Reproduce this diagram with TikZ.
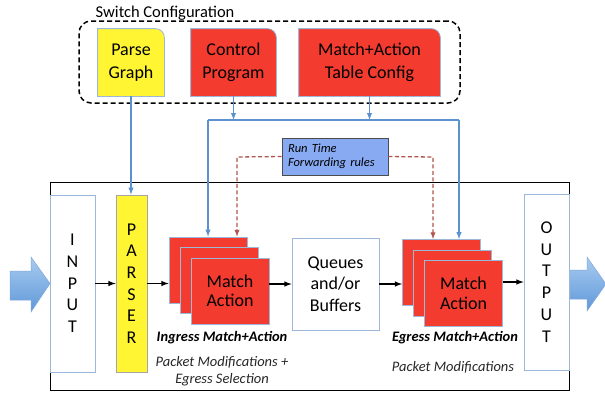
\documentclass[tikz,border=0pt]{standalone}
\usepackage{fontspec}
\setmainfont{Carlito}
\usetikzlibrary{arrows,backgrounds}

\definecolor{rotbox}{HTML}{F43B30}
\definecolor{gelbbox}{HTML}{FFF533}
\definecolor{rand}{HTML}{9DB7D8}
\definecolor{steuer}{HTML}{5B91CE}
\definecolor{laufzeit}{HTML}{88AAF2}
\definecolor{regel}{HTML}{B0554D}
\definecolor{pfeilhell}{HTML}{A9CBF0}
\definecolor{pfeildunkel}{HTML}{5F98D9}
\definecolor{pfeilrand}{HTML}{7FA8DA}

\begin{document}
\begin{tikzpicture}[x=1pt, y=-1pt, >=latex, thick,
  box/.style={draw=rand, line width=0.8pt, inner sep=0pt, align=center,
    font=\fontsize{18}{21.7}\selectfont},
  mabox/.style={box, fill=rotbox, minimum width=78pt, minimum height=66pt,
    font=\fontsize{18}{19.5}\selectfont},
  topbox/.style={inner sep=0pt, align=center, minimum height=67pt,
    font=\fontsize{18}{22.5}\selectfont},
  ecke/.style={line width=0.8pt, draw=rand},
  fluss/.style={->, line width=1.5pt},
  bus/.style={draw=steuer, line width=1.4pt},
  regellinie/.style={draw=regel, line width=1.3pt, dash pattern=on 4pt off 2.5pt},
  titel/.style={font=\bfseries\itshape\fontsize{14.5}{16}\selectfont},
  notiz/.style={font=\itshape\fontsize{14.5}{17}\selectfont, align=center, text=black!85}]

\useasboundingbox (0,0) rectangle (605,392);

\def\stapel#1#2#3{
\node[mabox] (#1a) at (#2,#3) {};
\node[mabox] (#1b) at (#2+11,#3+10.5) {};
\node[mabox] (#1c) at (#2+22,#3+21) {Match\\Action};
}

% switch configuration
\node[anchor=base west, font=\fontsize{16.5}{18}\selectfont] (sclabel) at (92,17) {Switch Configuration};
\node[draw, dash pattern=on 5pt off 3pt, line width=1.5pt, rounded corners=12pt, minimum width=381pt,
  minimum height=82pt] (cfg) at (269.5,62) {};
\node[topbox, minimum width=66pt] (pg) at (131,62.5) {Parse\\Graph};
\node[topbox, minimum width=85pt] (cp) at (233.5,62.5) {Control\\Program};
\node[topbox, minimum width=141pt] (tc) at (369.5,62.5) {Match+Action\\Table Config};

\begin{scope}[on background layer]
\filldraw[ecke, fill=gelbbox] (pg.south west) -- (pg.north west) -- ([xshift=-9pt]pg.north east)
  arc[start angle=90, end angle=0, radius=9pt] -- (pg.south east) -- cycle;
\filldraw[ecke, fill=rotbox] (cp.south west) -- (cp.north west) -- ([xshift=-9pt]cp.north east)
  arc[start angle=90, end angle=0, radius=9pt] -- (cp.south east) -- cycle;
\filldraw[ecke, fill=rotbox] (tc.south west) -- (tc.north west) -- ([xshift=-9pt]tc.north east)
  arc[start angle=90, end angle=0, radius=9pt] -- (tc.south east) -- cycle;
\end{scope}

% big in/out arrows
\shade[top color=pfeilhell, bottom color=pfeildunkel, draw=pfeilrand, line width=0.5pt]
  (10,271) -- (31,271) -- (31,257) -- (50,283.5) -- (31,312) -- (31,300) -- (10,300) -- cycle;
\shade[top color=pfeilhell, bottom color=pfeildunkel, draw=pfeilrand, line width=0.5pt]
  (569,270) -- (587,270) -- (587,257) -- (606,284) -- (587,311) -- (587,299) -- (569,299) -- cycle;

% pipeline
\node[draw, line width=0.6pt, inner sep=0pt, minimum width=519pt, minimum height=208pt] (main) at (309.5,286) {};
\node[box, fill=white, minimum width=45pt, minimum height=177pt] (in) at (72.5,283.5) {I\\N\\P\\U\\T};
\node[box, draw=black!35, fill=gelbbox, minimum width=31pt, minimum height=177pt] (parser) at (131.5,283.5) {P\\A\\R\\S\\E\\R};
\stapel{ima}{208}{270}
\node[box, fill=white, minimum width=87pt, minimum height=92pt] (q) at (335.5,284) {Queues\\and/or\\Buffers};
\stapel{ema}{441.5}{272.5}
\node[box, fill=white, minimum width=45pt, minimum height=176pt] (out) at (546.5,282) {O\\U\\T\\P\\U\\T};

\node[titel] (ilabel) at (222,338) {Ingress Match+Action};
\node[notiz] (inote) at (222,371) {Packet Modifications +\\Egress Selection};
\node[titel] (elabel) at (455,338) {Egress Match+Action};
\node[notiz] (enote) at (453,367) {Packet Modifications};

\draw[fluss] (in.east |- parser) -- (parser.west);
\draw[fluss] (parser.east) -- (parser.east -| imaa.west);
\draw[fluss] (q.west -| imac.east) -- (q.west);
\draw[fluss] (q.east) -- (q.east -| emaa.west);
\draw[fluss] (emac.east |- out.west) -- (out.west);

% configuration paths
\coordinate (busl) at (208,120);
\coordinate (busr) at (459,120);
\draw[bus, ->] (pg.south) -- (pg.south |- parser.north);
\draw[bus, ->] (cp.south) -- (cp.south |- busl);
\draw[bus, ->] (tc.south) -- (tc.south |- busl);
\draw[bus, ->] (busl) -- (busl |- imaa.north);
\draw[bus] (busl) -- (busr);
\draw[bus, ->] (busr) -- (busr |- emaa.north);

% run time rules
\node[draw=black!70, line width=0.8pt, fill=laufzeit, inner xsep=6pt, inner ysep=0pt,
  text width=94pt, minimum height=37pt, align=left,
  font=\itshape\fontsize{12.5}{14}\selectfont] (rt) at (335,156.5) {Run Time\\Forwarding rules};
\coordinate (rl) at (237,157);
\coordinate (rr) at (433,157);
\draw[regellinie, ->] (rt.west) -- (rl) -- (rl |- imaa.north);
\draw[regellinie, ->] (rt.east) -- (rr) -- (rr |- emaa.north);

\end{tikzpicture}
\end{document}
